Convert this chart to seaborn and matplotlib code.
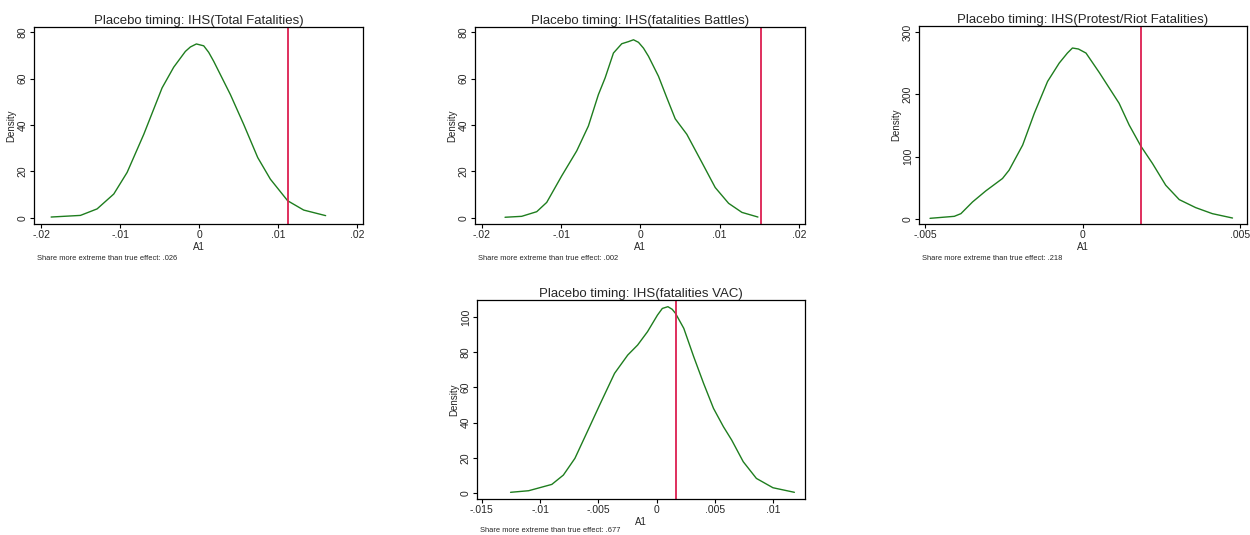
import matplotlib
matplotlib.use("Agg")
import matplotlib.pyplot as plt
import matplotlib.transforms as mtransforms
import pandas as pd
import seaborn as sns

# density curves (x = A1, y = density)
total_x = [-0.01873, -0.01502, -0.01291, -0.0108, -0.00911, -0.007, -0.00468, -0.00321, -0.00173, -0.0011,
           -0.00034, 0.00059, 0.00122, 0.00186, 0.00397, 0.00565, 0.00743, 0.00903, 0.01122, 0.01325, 0.01603]
total_y = [0.4, 1.1, 3.9, 10.3, 19.6, 36, 56, 64.9, 71.7, 73.6, 74.9, 74.1, 71.3, 67.4, 53.1, 40.3, 26, 16.7,
           7.4, 3.4, 1.0]

battles_x = [-0.01709, -0.01499, -0.01309, -0.01183, -0.00994, -0.00804, -0.00657, -0.00531, -0.00446,
             -0.00341, -0.00236, -0.00152, -0.00088, -0.00025, 0.00038, 0.00101, 0.00227, 0.00333, 0.00438,
             0.00585, 0.00775, 0.00943, 0.01112, 0.0128, 0.01482]
battles_y = [0.3, 0.7, 2.7, 6.7, 18.1, 28.9, 39.6, 53.1, 60.3, 71, 75, 75.9, 76.7, 75.6, 73.1, 69.6, 61, 51.7,
             42.7, 36, 23.9, 13.1, 6.3, 2.4, 0.4]

protest_x = [-0.00484, -0.00407, -0.00386, -0.00349, -0.00307, -0.00254, -0.00233, -0.0019, -0.00153,
             -0.00111, -0.00074, -0.00048, -0.00032, -0.00013, 0.00011, 0.00053, 0.0009, 0.00116,
             0.00148, 0.00185, 0.00222, 0.00264, 0.00307, 0.00359, 0.00412, 0.00476]
protest_y = [1.1, 4.3, 8.6, 27.4, 45.1, 65, 78.4, 118.6, 169.6, 220.6, 250.1, 266.2, 274.3, 272.7, 266.2,
             235.1, 206.1, 185.7, 150.8, 117, 89.1, 54.2, 31.1, 18.3, 8.6, 1.6]

vac_x = [-0.01254, -0.01099, -0.009, -0.00801, -0.00702, -0.00589, -0.0049, -0.00362, -0.00249, -0.00164,
         -0.00079, 0.00006, 0.00048, 0.00096, 0.00133, 0.00161, 0.00232, 0.00317, 0.00402, 0.00487, 0.00572,
         0.00643, 0.00742, 0.00855, 0.00997, 0.01181]
vac_y = [0.4, 1.3, 4.9, 10.2, 19.7, 35.8, 50, 68, 78.4, 84.1, 91.7, 101.1, 104.9, 105.9, 104.4, 102.1, 93.6,
         77.5, 62.3, 48.1, 37.7, 30.1, 17.8, 8.3, 3, 0.4]

titles = ["Placebo timing: IHS(Total Fatalities)", "Placebo timing: IHS(fatalities Battles)",
          "Placebo timing: IHS(Protest/Riot Fatalities)", "Placebo timing: IHS(fatalities VAC)"]
true_effect = [0.01122, 0.01524, 0.00184, 0.00167]
share = [".026", ".002", ".218", ".677"]
xticks = [[-0.02, -0.01, 0, 0.01, 0.02], [-0.02, -0.01, 0, 0.01, 0.02], [-0.005, 0, 0.005],
          [-0.015, -0.01, -0.005, 0, 0.005, 0.01]]
xticklabels = [["-.02", "-.01", "0", ".01", ".02"], ["-.02", "-.01", "0", ".01", ".02"],
               ["-.005", "0", ".005"], ["-.015", "-.01", "-.005", "0", ".005", ".01"]]
yticks = [[0, 20, 40, 60, 80], [0, 20, 40, 60, 80], [0, 100, 200, 300], [0, 20, 40, 60, 80, 100]]

curves = [(total_x, total_y), (battles_x, battles_y), (protest_x, protest_y), (vac_x, vac_y)]

sns.set_style("white")
plt.rcParams['font.family'] = ['Liberation Sans', 'DejaVu Sans']

fig = plt.figure(figsize=(12.5, 5.35), dpi=100)
W, H = 1250, 535
# axes boxes in pixels: left, top, right, bottom
boxes = [(34, 27, 363, 224), (475, 27, 805, 224), (919, 26, 1247, 224), (477, 300, 805, 499)]
xlims = [(-0.0209, 0.02076), (-0.02088, 0.02076), (-0.00519, 0.00522), (-0.01542, 0.01272)]
ylims = [(-2.6, 82.2), (-2.6, 82.2), (-8, 309.6), (-3.4, 109.7)]
note_gap = [34, 34, 34, 32]

for i in range(4):
    l, t, r, b = boxes[i]
    ax = fig.add_axes([l / W, 1 - b / H, (r - l) / W, (b - t) / H])
    df = pd.DataFrame({"A1": curves[i][0], "Density": curves[i][1]})
    sns.lineplot(data=df, x="A1", y="Density", ax=ax, color="#1e7d1e", linewidth=1.0)
    ax.axvline(true_effect[i], color="#dc1f50", linewidth=1.3)
    ax.set_xlim(*xlims[i])
    ax.set_ylim(*ylims[i])
    ax.set_xticks(xticks[i])
    ax.set_xticklabels(xticklabels[i], fontsize=7.5)
    ax.set_yticks(yticks[i])
    ax.set_yticklabels([str(v) for v in yticks[i]], fontsize=7.5, rotation=90, va="center")
    ax.tick_params(direction="out", length=3, width=0.8, color="black", pad=1.5, bottom=True, left=True)
    for s in ax.spines.values():
        s.set_color("black")
        s.set_linewidth(0.9)
    ax.set_xlabel("A1", fontsize=7, labelpad=1)
    ax.set_ylabel("Density", fontsize=7, labelpad=1)
    ax.set_title(titles[i], fontsize=9.5, pad=2)
    off = mtransforms.offset_copy(ax.transAxes, fig=fig, x=2.5, y=-note_gap[i] * 0.72, units="points")
    ax.text(0, 0, "Share more extreme than true effect: " + share[i], transform=off,
            fontsize=5.4, ha="left", va="center")

plt.savefig("out.png", dpi=100)
